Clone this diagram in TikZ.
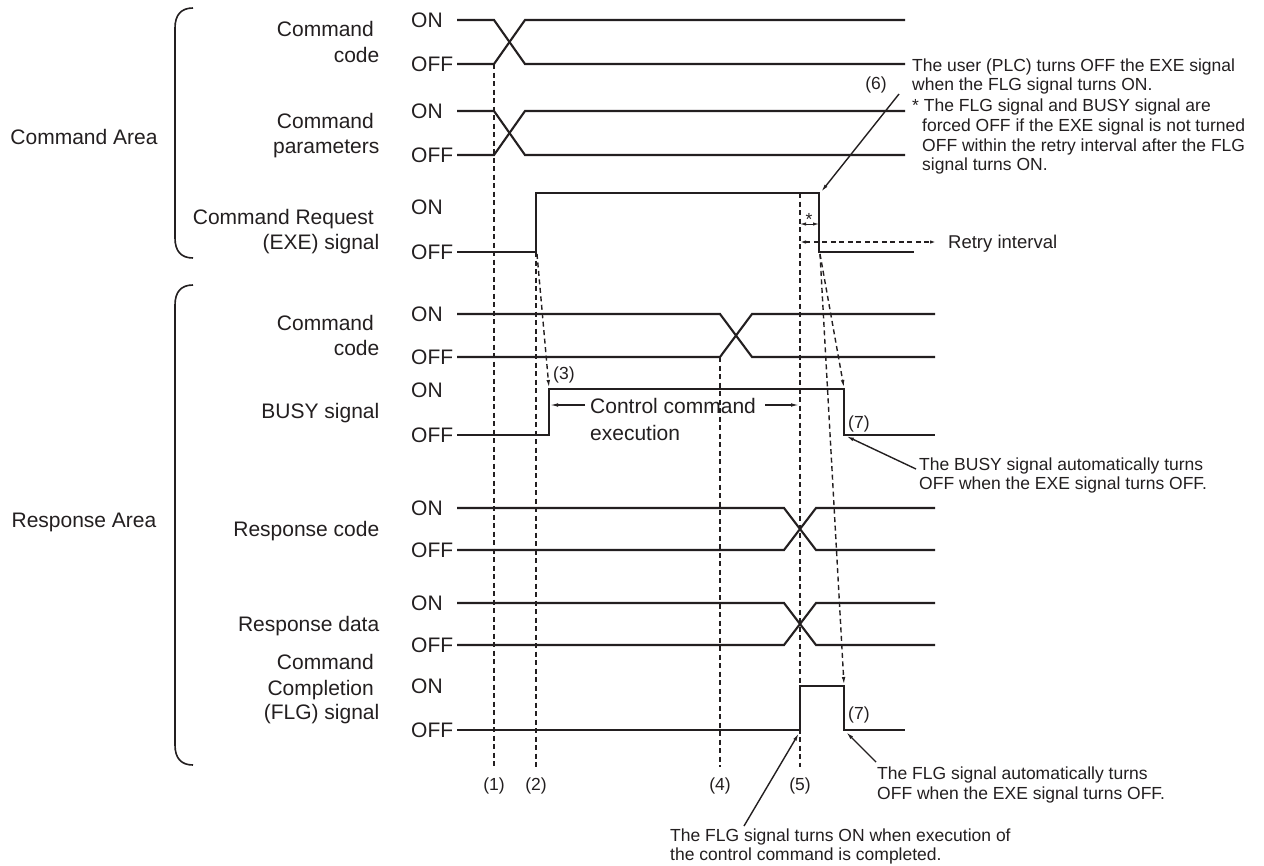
\documentclass[tikz,border=0pt]{standalone}
\usepackage{fontspec}
\setmainfont{Liberation Sans}
\usetikzlibrary{arrows.meta}
\definecolor{ink}{RGB}{35,31,32}
\begin{document}
\begin{tikzpicture}[x=1pt,y=-1pt,
  sig/.style={ink, line width=2.1pt, line join=miter},
  guide/.style={ink, line width=1.4pt, dash pattern=on 5pt off 3.5pt},
  note/.style={ink, line width=1.4pt},
  tip/.style={-{Latex[length=8pt,width=3.6pt]}},
  dtip/.style={{Latex[length=6pt,width=3.4pt]}-{Latex[length=6pt,width=3.4pt]}},
  lab/.style={text=ink, font=\fontsize{21}{25}\selectfont, inner sep=0pt, anchor=base east},
  lvl/.style={text=ink, font=\fontsize{21}{25}\selectfont, inner sep=0pt, anchor=base west},
  area/.style={text=ink, font=\fontsize{21}{25}\selectfont, inner sep=0pt, anchor=base},
  ann/.style={text=ink, font=\fontsize{17.5}{19}\selectfont, inner sep=0pt, anchor=base west},
  num/.style={text=ink, font=\fontsize{17.5}{19}\selectfont, inner sep=0pt, anchor=base},
]
\useasboundingbox[fill=white] (0,0) rectangle (1264,865);

% ---------- area braces and titles ----------
\draw[note, line width=1.6pt] (193,8) .. controls (181,8) and (175,15) .. (175,28) -- (175,238) .. controls (175,251) and (181,258) .. (193,258);
\draw[note, line width=1.6pt] (193,285) .. controls (181,285) and (175,292) .. (175,305) -- (175,745) .. controls (175,758) and (181,765) .. (193,765);
\node[area] (cmdarea) at (84,144) {Command Area};
\node[area] (resarea) at (84,527) {Response Area};

% ---------- signal names ----------
\node[lab] (l1a) at (374,36.5) {Command};
\node[lab] (l1b) at (379.5,62.5) {code};
\node[lab] (l2a) at (374,128) {Command};
\node[lab] (l2b) at (379.5,153) {parameters};
\node[lab] (l3a) at (374,224) {Command Request};
\node[lab] (l3b) at (379.5,249) {(EXE) signal};
\node[lab] (l4a) at (374,330) {Command};
\node[lab] (l4b) at (379.5,355) {code};
\node[lab] (l5) at (379.5,418) {BUSY signal};
\node[lab] (l6) at (379.5,536.5) {Response code};
\node[lab] (l7) at (379.5,631.5) {Response data};
\node[lab] (l8a) at (374,669.5) {Command};
\node[lab] (l8b) at (374,695.5) {Completion};
\node[lab] (l8c) at (379.5,719.5) {(FLG) signal};

% ---------- ON / OFF levels ----------
\foreach \i/\y in {1/20,2/111,3/207,4/314,5/390,6/508,7/603,8/686}
  \node[lvl] (on\i) at (411,\y+7.3) {ON};
\foreach \i/\y in {1/64,2/155,3/252,4/357,5/435,6/550,7/645,8/730}
  \node[lvl] (off\i) at (411,\y+7.3) {OFF};

% ---------- waveforms ----------
\draw[sig] (457,20) -- (494,20) -- (525,64) -- (905,64);
\draw[sig] (457,64) -- (494,64) -- (525,20) -- (905,20);
\draw[sig] (457,111) -- (494,111) -- (525,155) -- (905,155);
\draw[sig] (457,155) -- (494,155) -- (525,111) -- (905,111);
\draw[sig] (457,252) -- (536,252) -- (536,193) -- (819,193) -- (819,252) -- (914,252);
\draw[sig] (457,314) -- (720,314) -- (752,357) -- (935,357);
\draw[sig] (457,357) -- (720,357) -- (752,314) -- (935,314);
\draw[sig] (457,435) -- (549,435) -- (549,389) -- (844,389) -- (844,435) -- (935,435);
\draw[sig] (457,508) -- (784,508) -- (816,550) -- (935,550);
\draw[sig] (457,550) -- (784,550) -- (816,508) -- (935,508);
\draw[sig] (457,603) -- (784,603) -- (816,645) -- (935,645);
\draw[sig] (457,645) -- (784,645) -- (816,603) -- (935,603);
\draw[sig] (457,730) -- (800,730) -- (800,686) -- (844,686) -- (844,730) -- (905,730);

% ---------- key points ----------
\coordinate (t1top) at (494,64);   \coordinate (t1bot) at (494,767);
\coordinate (t2top) at (536,252);  \coordinate (t2bot) at (536,767);
\coordinate (t4top) at (720,357);  \coordinate (t4bot) at (720,767);
\coordinate (t5top) at (800,193);  \coordinate (t5bot) at (800,767);
\coordinate (exeup) at (537,254);
\coordinate (busyup) at (549,388);
\coordinate (exedn) at (820,254);
\coordinate (busydn) at (844,388);
\coordinate (flgdn) at (844,685);
\coordinate (exefall) at (821,192);
\coordinate (busyoff) at (846,436);
\coordinate (flgoff) at (846,732);
\coordinate (flgon) at (799,733);

% ---------- timing guides ----------
\draw[guide] (t1top) -- (t1bot);
\draw[guide] (t2top) -- (t2bot);
\draw[guide] (t4top) -- (t4bot);
\draw[guide] (t5top) -- (t5bot);
\draw[guide, tip] (exeup) -- (busyup);
\draw[guide, tip] (exedn) -- (busydn);
\draw[guide, tip] (exedn) -- (flgdn);

\node[num] (n1) at (494,790) {(1)};
\node[num] (n2) at (536,790) {(2)};
\node[num] (n4) at (720,790) {(4)};
\node[num] (n5) at (800,790) {(5)};
\node[ann] (n3) at (553,379) {(3)};
\node[num] (n6) at (876,89) {(6)};
\node[ann] (n7a) at (848,428) {(7)};
\node[ann] (n7b) at (848,719) {(7)};

% ---------- retry interval ----------
\coordinate (s1) at (800,224); \coordinate (s2) at (819,224);
\draw[note, line width=1pt, dtip] (s1) -- (s2);
\node[num] (star) at (809,225) {*};
\coordinate (r1) at (800,242); \coordinate (r2) at (936,242);
\draw[guide, line width=1.2pt, dtip] (r1) -- (r2);
\node[ann, font=\fontsize{18.5}{20}\selectfont] (retry) at (948,248.5) {Retry interval};

% ---------- control command execution ----------
\node[ann, font=\fontsize{21}{25}\selectfont] (cce1) at (590,413) {Control command};
\node[ann, font=\fontsize{21}{25}\selectfont] (cce2) at (590,440) {execution};
\coordinate (c1) at (585,405); \coordinate (c1t) at (550,405);
\coordinate (c2) at (765,405); \coordinate (c2t) at (799,405);
\draw[note, line width=1.2pt, tip] (c1) -- (c1t);
\draw[note, line width=1.2pt, tip] (c2) -- (c2t);

% ---------- notes ----------
\node[ann] (u1) at (912,71) {The user (PLC) turns OFF the EXE signal};
\node[ann] (u2) at (912,90) {when the FLG signal turns ON.};
\node[ann] (u3) at (912,111) {* The FLG signal and BUSY signal are};
\node[ann] (u4) at (922,131) {forced OFF if the EXE signal is not turned};
\node[ann] (u5) at (922,151) {OFF within the retry interval after the FLG};
\node[ann] (u6) at (922,170) {signal turns ON.};
\coordinate (a6) at (899,94);
\draw[note, tip] (a6) -- (exefall);

\node[ann] (b1) at (919,470) {The BUSY signal automatically turns};
\node[ann] (b2) at (919,489) {OFF when the EXE signal turns OFF.};
\coordinate (ab) at (916,469);
\draw[note, tip] (ab) -- (busyoff);

\node[ann] (f1) at (877,779) {The FLG signal automatically turns};
\node[ann] (f2) at (877,799) {OFF when the EXE signal turns OFF.};
\coordinate (af) at (876,762);
\draw[note, tip] (af) -- (flgoff);

\node[ann] (g1) at (670,841) {The FLG signal turns ON when execution of};
\node[ann] (g2) at (670,860) {the control command is completed.};
\coordinate (ag) at (744,826);
\draw[note, tip] (ag) -- (flgon);
\end{tikzpicture}
\end{document}
